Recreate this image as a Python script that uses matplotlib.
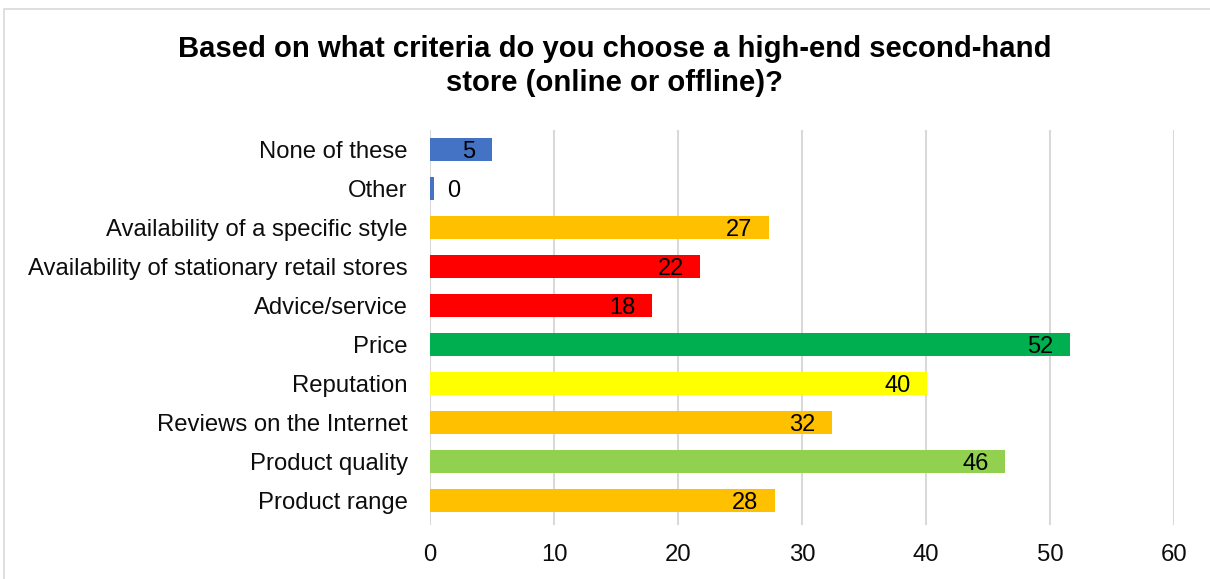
import matplotlib.pyplot as plt
from matplotlib.patches import Rectangle

plt.rcParams['font.family'] = ['Liberation Sans', 'DejaVu Sans']

categories = ["Product range", "Product quality", "Reviews on the Internet", "Reputation",
              "Price", "Advice/service", "Availability of stationary retail stores",
              "Availability of a specific style", "Other", "None of these"]
values = [27.8, 46.4, 32.4, 40.1, 51.6, 17.9, 21.8, 27.3, 0.35, 5.0]
colors = ["#FFC000", "#92D050", "#FFC000", "#FFFF00", "#00B050", "#FF0000", "#FF0000",
          "#FFC000", "#4472C4", "#4472C4"]
ticks = [0, 10, 20, 30, 40, 50, 60]

fig = plt.figure(figsize=(12.1, 5.79), dpi=100)
ax = fig.add_axes([430 / 1210, 1 - 525 / 579, 744 / 1210, 395 / 579])

y = list(range(len(categories)))
bars = ax.barh(y, values, height=0.58, color=colors, zorder=3)

for b, v in zip(bars, values):
    yc = b.get_y() + b.get_height() / 2
    if v < 2:
        ax.annotate(f"{v:.0f}", (v, yc), xytext=(9, 0), textcoords="offset points",
                    ha="left", va="center_baseline", fontsize=17, color="black")
    else:
        ax.annotate(f"{v:.0f}", (v, yc), xytext=(-12, 0), textcoords="offset points",
                    ha="right", va="center_baseline", fontsize=17, color="black")

ax.set_xlim(0, 60)
ax.set_ylim(-0.62, len(categories) - 0.5)
ax.set_xticks(ticks)
ax.set_yticks(y)
ax.set_yticklabels(categories, fontsize=17.2, color="#0D0D0D")
ax.tick_params(axis="x", labelsize=17.2, colors="#0D0D0D", length=0, pad=14)
ax.tick_params(axis="y", length=0, pad=16)
ax.grid(axis="x", color="#D9D9D9", linewidth=1.5, zorder=0)
for s in ax.spines.values():
    s.set_visible(False)

fig.text(614.5 / 1210, 1 - 66 / 579, "Based on what criteria do you choose a high-end second-hand\nstore (online or offline)?",
         ha="center", va="center", fontsize=21.1, fontweight="bold", linespacing=1.25)

fig.patches.append(Rectangle((4 / 1210, -0.01), 1.01, 1 - 9 / 579 + 0.01,
                             transform=fig.transFigure, fill=False, edgecolor="#D9D9D9", linewidth=1.2))

fig.savefig("out.png", dpi=100)
